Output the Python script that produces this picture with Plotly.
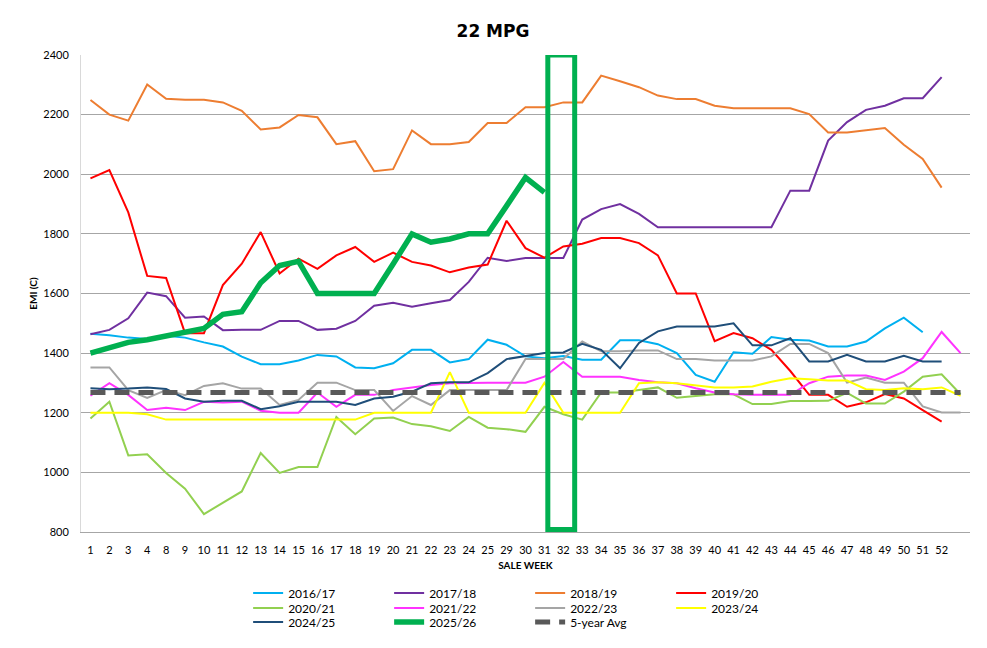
import plotly.graph_objects as go

weeks = ["1", "2", "3", "4", "8", "9", "10", "11", "12", "13", "14", "15", "16", "17",
         "18", "19", "20", "21", "22", "23", "24", "25", "29", "30", "31", "32", "33",
         "34", "35", "36", "37", "38", "39", "40", "41", "42", "43", "44", "45", "46",
         "47", "48", "49", "50", "51", "52", ""]

s2016_17 = [1465, 1460, 1452, 1447, 1458, 1452, 1436, 1422, 1388, 1363,
            1363, 1375, 1394, 1389, 1352, 1349, 1366, 1411, 1411, 1369,
            1380, 1445, 1428, 1389, 1383, 1390, 1378, 1378, 1443, 1443,
            1430, 1400, 1327, 1304, 1403, 1398, 1454, 1445, 1442, 1422,
            1422, 1439, 1483, 1519, 1470, None, None]

s2017_18 = [1463, 1478, 1517, 1603, 1591, 1519, 1523, 1477, 1478, 1478,
            1508, 1508, 1478, 1482, 1508, 1559, 1569, 1556, 1567, 1578,
            1639, 1720, 1709, 1719, 1719, 1719, 1848, 1883, 1900, 1867,
            1822, 1822, 1822, 1822, 1822, 1822, 1822, 1945, 1945, 2113,
            2175, 2216, 2230, 2255, 2255, 2326, None]

s2018_19 = [2249, 2200, 2180, 2301, 2253, 2250, 2250, 2241, 2213, 2150,
            2157, 2199, 2191, 2101, 2111, 2010, 2017, 2147, 2101, 2101,
            2108, 2172, 2172, 2225, 2225, 2241, 2241, 2331, 2312, 2292,
            2264, 2252, 2252, 2230, 2221, 2221, 2221, 2221, 2202, 2140,
            2140, 2148, 2155, 2099, 2051, 1955, None]

s2019_20 = [1986, 2014, 1872, 1659, 1652, 1467, 1467, 1628, 1700, 1806,
            1667, 1717, 1683, 1728, 1756, 1706, 1737, 1706, 1694, 1671,
            1687, 1697, 1844, 1752, 1720, 1758, 1767, 1786, 1786, 1769,
            1728, 1600, 1600, 1440, 1467, 1450, 1411, 1340, 1260, 1260,
            1220, 1235, 1263, 1248, 1209, 1170, None]

s2020_21 = [1181, 1237, 1057, 1061, 998, 945, 860, 897, 936, 1065,
            998, 1018, 1018, 1186, 1128, 1181, 1184, 1162, 1155, 1139,
            1186, 1150, 1145, 1136, 1220, 1195, 1177, 1268, 1268, 1276,
            1285, 1250, 1257, 1262, 1262, 1229, 1229, 1239, 1239, 1240,
            1267, 1231, 1231, 1271, 1321, 1329, 1262]

s2021_22 = [1257, 1299, 1260, 1209, 1217, 1209, 1237, 1234, 1237, 1207,
            1200, 1200, 1268, 1220, 1260, 1260, 1276, 1285, 1293, 1299,
            1301, 1301, 1301, 1301, 1321, 1370, 1321, 1321, 1321, 1310,
            1302, 1299, 1282, 1268, 1262, 1260, 1260, 1260, 1299, 1321,
            1325, 1325, 1310, 1338, 1383, 1471, 1400]

s2022_23 = [1352, 1352, 1276, 1250, 1276, 1259, 1290, 1299, 1281, 1281,
            1226, 1243, 1301, 1301, 1276, 1276, 1206, 1256, 1226, 1276,
            1276, 1276, 1276, 1380, 1380, 1380, 1439, 1406, 1406, 1409,
            1409, 1380, 1380, 1375, 1375, 1375, 1389, 1431, 1431, 1400,
            1301, 1318, 1301, 1301, 1221, 1201, 1201]

s2023_24 = [1200, 1200, 1200, 1195, 1177, 1177, 1177, 1177, 1177, 1177,
            1177, 1177, 1177, 1177, 1177, 1200, 1201, 1200, 1200, 1336,
            1200, 1200, 1200, 1200, 1300, 1200, 1200, 1200, 1200, 1299,
            1302, 1299, 1293, 1285, 1285, 1288, 1304, 1316, 1312, 1308,
            1308, 1279, 1276, 1282, 1279, 1285, 1257]

s2024_25 = [1282, 1279, 1281, 1285, 1280, 1248, 1237, 1240, 1240, 1212,
            1222, 1237, 1237, 1237, 1226, 1248, 1254, 1271, 1299, 1302,
            1302, 1333, 1380, 1391, 1400, 1402, 1431, 1411, 1349, 1434,
            1473, 1489, 1489, 1489, 1500, 1426, 1426, 1450, 1372, 1372,
            1394, 1372, 1372, 1391, 1372, 1372, None]

s2025_26 = [1400, 1417, 1436, 1445, 1458, 1467, 1483, 1530, 1539, 1636,
            1694, 1708, 1600, 1600, 1600, 1600, 1699, 1800, 1772, 1783,
            1800, 1800, 1894, 1989, 1939, None, None, None, None, None,
            None, None, None, None, None, None, None, None, None, None,
            None, None, None, None, None, None, None]

avg5 = [1268, 1268, 1268, 1268, 1268, 1268, 1268, 1268, 1268, 1268,
        1268, 1268, 1268, 1268, 1268, 1268, 1268, 1268, 1268, 1268,
        1268, 1268, 1268, 1268, 1268, 1268, 1268, 1268, 1268, 1268,
        1268, 1268, 1268, 1268, 1268, 1268, 1268, 1268, 1268, 1268,
        1268, 1268, 1268, 1268, 1268, 1268, 1268]

y_ticks = [800, 1000, 1200, 1400, 1600, 1800, 2000, 2200, 2400]

series = [
    ("2016/17", s2016_17, "#00B0F0", 2, "solid", "legend"),
    ("2017/18", s2017_18, "#7030A0", 2, "solid", "legend"),
    ("2018/19", s2018_19, "#ED7D31", 2, "solid", "legend"),
    ("2019/20", s2019_20, "#FF0000", 2, "solid", "legend"),
    ("2020/21", s2020_21, "#92D050", 2, "solid", "legend2"),
    ("2021/22", s2021_22, "#FF33FF", 2, "solid", "legend2"),
    ("2022/23", s2022_23, "#A5A5A5", 2, "solid", "legend2"),
    ("2023/24", s2023_24, "#FFFF00", 2, "solid", "legend2"),
    ("2024/25", s2024_25, "#1F4E79", 2, "solid", "legend3"),
    ("2025/26", s2025_26, "#00B050", 5.5, "solid", "legend3"),
    ("5-year Avg", avg5, "#595959", 5, "15px,9px", "legend3"),
]

x_idx = list(range(len(weeks)))
FONT = "Lato, Carlito, Calibri, 'Open Sans', sans-serif"

# page body has an 8px default margin: size the figure to fill the rest
W, H = 979, 640
PLOT_TOP, PLOT_BOTTOM = 47, 524   # in figure pixels
PLOT_H = PLOT_BOTTOM - PLOT_TOP

fig = go.Figure()
for name, vals, color, width, dash, leg in series:
    fig.add_trace(go.Scatter(
        x=x_idx, y=vals, name=name, mode="lines",
        line=dict(color=color, width=width, dash=dash),
        connectgaps=False, legend=leg, hoverinfo="x+y+name"))

# highlight box around weeks 31-32
i31 = weeks.index("31")
fig.add_shape(type="rect", xref="x", yref="y",
              x0=i31 + 0.18, x1=i31 + 1.6, y0=808, y1=2400,
              line=dict(color="#00B050", width=5), fillcolor="rgba(0,0,0,0)",
              layer="above")

leg_common = dict(orientation="h", xanchor="left", yanchor="middle",
                  entrywidth=96, entrywidthmode="pixels",
                  font=dict(family=FONT, size=12, color="#000000"),
                  bgcolor="rgba(0,0,0,0)", tracegroupgap=0, itemwidth=30)

fig.update_layout(
    width=W, height=H,
    margin=dict(l=73, r=17, t=PLOT_TOP, b=H - PLOT_BOTTOM),
    paper_bgcolor="white", plot_bgcolor="white",
    title=dict(text="<b>22 MPG</b>", x=(493 - 8) / W, xref="container",
               xanchor="center", y=1 - 23 / H, yref="container", yanchor="middle",
               font=dict(family="DejaVu Sans, sans-serif", size=17, color="#000000")),
    font=dict(family=FONT, size=11, color="#000000"),
    xaxis=dict(
        range=[-0.5, len(weeks) - 0.5],
        tickmode="array", tickvals=x_idx, ticktext=weeks,
        tickangle=0,
        showgrid=False, zeroline=False,
        showline=True, linecolor="#A6A6A6", linewidth=1,
        ticks="", ticklabelstandoff=8,
        tickfont=dict(family=FONT, size=11, color="#000000"),
        title=dict(text="<b>SALE WEEK</b>", standoff=6,
                   font=dict(family=FONT, size=10, color="#000000")),
    ),
    yaxis=dict(
        range=[800, 2400], tickmode="array", tickvals=y_ticks,
        showgrid=True, gridcolor="#A6A6A6", gridwidth=1,
        zeroline=False, showline=True, linecolor="#D9D9D9", linewidth=1,
        ticks="", ticklabelstandoff=9,
        tickfont=dict(family=FONT, size=11, color="#000000"),
        title=dict(text="<b>EMI (C)</b>", standoff=3,
                   font=dict(family=FONT, size=10, color="#000000")),
    ),
    legend=dict(x=0.188, y=(PLOT_BOTTOM - 585) / PLOT_H, **leg_common),
    legend2=dict(x=0.188, y=(PLOT_BOTTOM - 600) / PLOT_H, **leg_common),
    legend3=dict(x=0.188, y=(PLOT_BOTTOM - 614) / PLOT_H, **leg_common),
    showlegend=True,
)

fig.write_html("out.html")
